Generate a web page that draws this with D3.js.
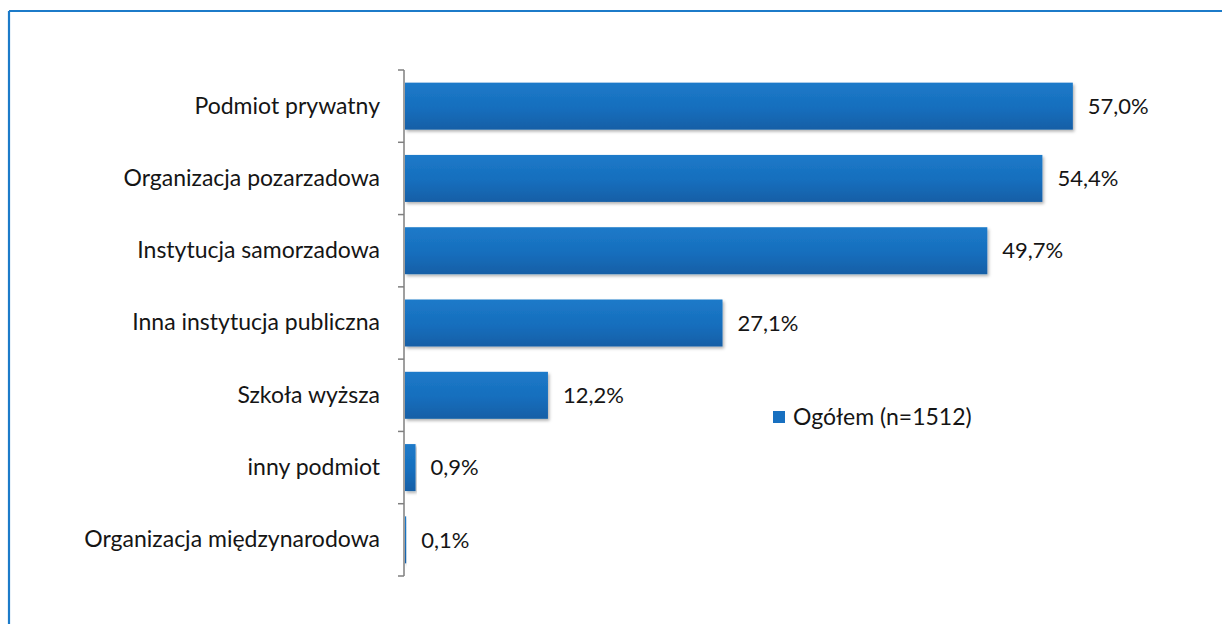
<!DOCTYPE html>
<html>
<head>
<meta charset="utf-8">
<script src="https://cdn.jsdelivr.net/npm/d3@7"></script>
<style>
  html, body { margin: 0; padding: 0; background: #fff; }
  svg { display: block; }
  text { font-family: Lato, "Open Sans", sans-serif; fill: #151515; }
</style>
</head>
<body>
<svg id="chart" width="1222" height="624"></svg>
<script>
// Categories (top to bottom) and their shares in percent
const categories = [
  "Podmiot prywatny",
  "Organizacja pozarzadowa",
  "Instytucja samorzadowa",
  "Inna instytucja publiczna",
  "Szkoła wyższa",
  "inny podmiot",
  "Organizacja międzynarodowa"
];
const values = [57.0, 54.4, 49.7, 27.1, 12.2, 0.9, 0.1];
const seriesName = "Ogółem (n=1512)";

const W = 1222, H = 624;
const svg = d3.select("#chart");

const margin = { left: 405, top: 70, bottom: 576 };
const labelSize = 23;

const x = d3.scaleLinear().domain([0, 60]).range([margin.left, margin.left + 703]);
const y = d3.scaleBand().domain(categories).range([margin.top, margin.bottom]).paddingInner(0.35).paddingOuter(0.175);

const defs = svg.append("defs");
const grad = defs.append("linearGradient").attr("id", "barGrad")
  .attr("x1", 0).attr("y1", 0).attr("x2", 0).attr("y2", 1);
grad.append("stop").attr("offset", "0%").attr("stop-color", "#1c7ac9");
grad.append("stop").attr("offset", "55%").attr("stop-color", "#176ebd");
grad.append("stop").attr("offset", "100%").attr("stop-color", "#135fa6");

const shadow = defs.append("filter").attr("id", "barShadow")
  .attr("x", "-5%").attr("y", "-20%").attr("width", "115%").attr("height", "160%");
shadow.append("feDropShadow").attr("dx", 1.5).attr("dy", 2).attr("stdDeviation", 1.5)
  .attr("flood-color", "#000").attr("flood-opacity", 0.3);

// frame
svg.append("line").attr("x1", 9).attr("x2", W).attr("y1", 11).attr("y2", 11)
  .attr("stroke", "#1c7bc9").attr("stroke-width", 2.2);
svg.append("line").attr("x1", 9).attr("x2", 9).attr("y1", 11).attr("y2", H)
  .attr("stroke", "#1c7bc9").attr("stroke-width", 2.2);

// bars
svg.append("g").selectAll("rect").data(values).join("rect")
  .attr("x", x(0))
  .attr("y", (d, i) => y(categories[i]))
  .attr("width", d => x(d) - x(0))
  .attr("height", y.bandwidth())
  .attr("fill", "url(#barGrad)")
  .attr("filter", "url(#barShadow)");

// value labels
svg.append("g").selectAll("text").data(values).join("text")
  .attr("x", d => x(d) + 15)
  .attr("y", (d, i) => y(categories[i]) + y.bandwidth() / 2)
  .attr("dy", "0.35em")
  .attr("font-size", 22)
  .text(d => d.toFixed(1).replace(".", ",") + "%");

// category axis
const axis = d3.axisLeft(y).tickSize(0).tickPadding(24);
const gAxis = svg.append("g").attr("transform", `translate(${margin.left - 1},0)`).call(axis);
gAxis.select(".domain").remove();
gAxis.selectAll("text").attr("font-size", labelSize).attr("font-family", "Lato, 'Open Sans', sans-serif").attr("fill", "#151515");

// axis line with boundary ticks between categories
const boundaries = d3.range(categories.length + 1).map(i => margin.top + i * (margin.bottom - margin.top) / categories.length);
svg.append("line").attr("x1", margin.left - 1).attr("x2", margin.left - 1)
  .attr("y1", margin.top).attr("y2", margin.bottom)
  .attr("stroke", "#7f7f7f").attr("stroke-width", 1.5);
svg.append("g").selectAll("line").data(boundaries).join("line")
  .attr("x1", margin.left - 7).attr("x2", margin.left - 1)
  .attr("y1", d => d).attr("y2", d => d)
  .attr("stroke", "#7f7f7f").attr("stroke-width", 1.5);

// legend
const lg = svg.append("g").attr("transform", "translate(773,411)");
lg.append("rect").attr("width", 12).attr("height", 12).attr("fill", "#1870c0");
lg.append("text").attr("x", 20).attr("y", 6).attr("dy", "0.35em").attr("font-size", labelSize).text(seriesName);
</script>
</body>
</html>
